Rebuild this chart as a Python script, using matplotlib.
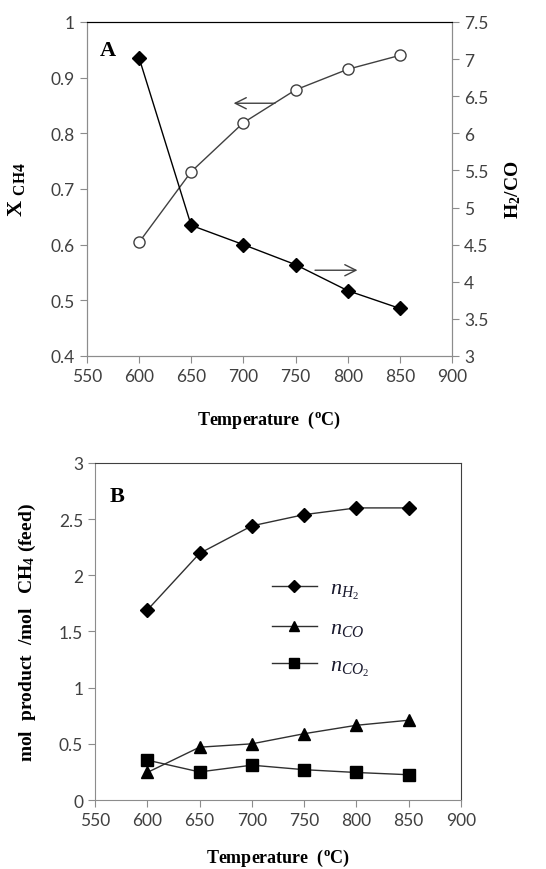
import matplotlib
matplotlib.use("Agg")
import matplotlib.pyplot as plt

plt.rcParams['font.family'] = ['Lato', 'DejaVu Sans']
plt.rcParams['mathtext.fontset'] = 'custom'
plt.rcParams['mathtext.rm'] = 'Liberation Serif'
plt.rcParams['mathtext.it'] = 'Liberation Serif:italic'
plt.rcParams['mathtext.bf'] = 'Liberation Serif:bold'

temps = [600, 650, 700, 750, 800, 850]
x_ch4 = [0.604, 0.731, 0.819, 0.878, 0.915, 0.940]
h2_co = [7.02, 4.76, 4.50, 4.23, 3.88, 3.64]
n_h2 = [1.69, 2.195, 2.44, 2.54, 2.60, 2.60]
n_co = [0.245, 0.47, 0.50, 0.59, 0.665, 0.71]
n_co2 = [0.355, 0.25, 0.31, 0.27, 0.245, 0.225]

xticks = [550, 600, 650, 700, 750, 800, 850, 900]
tick_col = '#404040'
spine_col = '#8c8c8c'
serif = 'Liberation Serif'
tick_fs = 12.5

fig = plt.figure(figsize=(5.46, 8.7), dpi=100)

# ---- Panel A ----
ax = fig.add_axes([0.159, 0.5897, 0.669, 0.3839])
ax.plot(temps, x_ch4, color='#404040', lw=1, marker='o', ms=8, mfc='white', mec='#404040', mew=1)
ax.set_xlim(550, 900)
ax.set_ylim(0.4, 1.0)
ax.set_xticks(xticks)
ax.set_yticks([0.4, 0.5, 0.6, 0.7, 0.8, 0.9, 1.0])
ax.set_yticklabels(['0.4', '0.5', '0.6', '0.7', '0.8', '0.9', '1'])
ax2 = ax.twinx()
ax2.plot(temps, h2_co, color='black', lw=1, marker='D', ms=7, mfc='black', mec='black')
ax2.set_ylim(3, 7.5)
ax2.set_yticks([3, 3.5, 4, 4.5, 5, 5.5, 6, 6.5, 7, 7.5])
ax2.set_yticklabels(['3', '3.5', '4', '4.5', '5', '5.5', '6', '6.5', '7', '7.5'])
for a in (ax, ax2):
    for s in ['left', 'right', 'bottom']:
        a.spines[s].set_color(spine_col)
    a.spines['top'].set_color('black')
    a.tick_params(colors=spine_col, labelcolor=tick_col, labelsize=tick_fs, length=5, direction='out')
ax.set_xlabel(r'Temperature  ($^\mathbf{o}$C)', family=serif, fontweight='bold', fontsize=13)
ax.xaxis.set_label_coords(0.5, -0.158)
ax.set_ylabel(r'X $_{\mathbf{CH4}}$', family=serif, fontweight='bold', fontsize=16)
ax.yaxis.set_label_coords(-0.165, 0.5)
ax2.set_ylabel(r'H$_\mathbf{2}$/CO', family=serif, fontweight='bold', fontsize=14)
ax2.yaxis.set_label_coords(1.14, 0.5)
ax.text(0.035, 0.90, 'A', transform=ax.transAxes, family=serif, fontweight='bold', fontsize=16)
ax.annotate('', xy=(688, 0.854), xytext=(733, 0.854),
            arrowprops=dict(arrowstyle='->', color='#404040', lw=1, mutation_scale=20))
ax.annotate('', xy=(812, 0.554), xytext=(766, 0.554),
            arrowprops=dict(arrowstyle='->', color='#404040', lw=1, mutation_scale=20))

# ---- Panel B ----
bx = fig.add_axes([0.174, 0.0793, 0.670, 0.3874])
bx.plot(temps, n_h2, color='#303030', lw=1, marker='D', ms=7, mfc='black', mec='black', label=r'$n_{H_2}$')
bx.plot(temps, n_co, color='#303030', lw=1, marker='^', ms=8, mfc='black', mec='black', label=r'$n_{CO}$')
bx.plot(temps, n_co2, color='#303030', lw=1, marker='s', ms=8, mfc='black', mec='black', label=r'$n_{CO_2}$')
bx.set_xlim(550, 900)
bx.set_ylim(0, 3)
bx.set_xticks(xticks)
bx.set_yticks([0, 0.5, 1, 1.5, 2, 2.5, 3])
bx.set_yticklabels(['0', '0.5', '1', '1.5', '2', '2.5', '3'])
for s in ['left', 'right', 'bottom', 'top']:
    bx.spines[s].set_color('#404040')
bx.spines['left'].set_color(spine_col)
bx.spines['bottom'].set_color(spine_col)
bx.tick_params(colors=spine_col, labelcolor=tick_col, labelsize=tick_fs, length=5, direction='out')
bx.set_xlabel(r'Temperature  ($^\mathbf{o}$C)', family=serif, fontweight='bold', fontsize=13)
bx.xaxis.set_label_coords(0.5, -0.138)
bx.set_ylabel(r'mol  product  /mol   CH$_\mathbf{4}$ (feed)', family=serif, fontweight='bold', fontsize=14)
bx.yaxis.set_label_coords(-0.155, 0.5)
bx.text(0.041, 0.887, 'B', transform=bx.transAxes, family=serif, fontweight='bold', fontsize=16)
leg = bx.legend(loc='upper left', bbox_to_anchor=(0.484, 0.66), frameon=False, fontsize=16,
                handlelength=2.0, labelspacing=0.75, markerscale=0.9, borderpad=0, borderaxespad=0,
                handletextpad=0.6)
for t in leg.get_texts():
    t.set_color('#1a1a2e')

fig.savefig('out.png', dpi=100)
